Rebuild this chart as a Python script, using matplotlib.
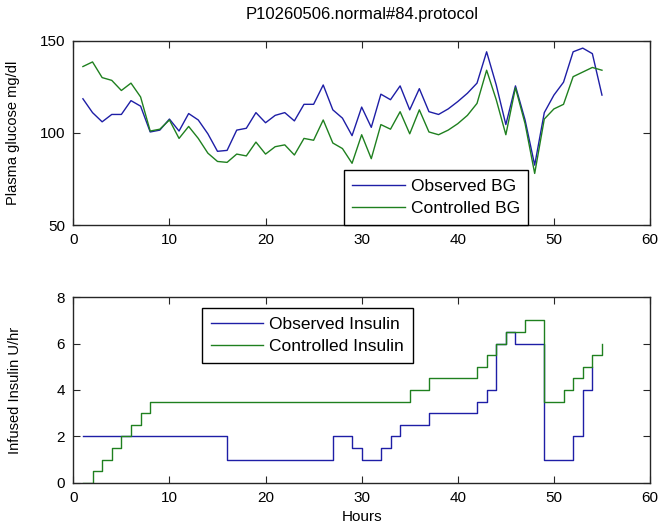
import matplotlib

matplotlib.use("Agg")
import matplotlib.pyplot as plt

# hours of the protocol (one sample per hour)
hours_bg = list(range(1, 56))
hours_obs_ins = list(range(1, 55))
hours_ctl_ins = list(range(1, 56))

observed_bg = [
    118.5, 111, 106, 110, 110, 117.5, 114.5, 100.5, 101.5, 107.5,
    101, 110.5, 107, 99.5, 90, 90.5, 101.5, 102.5, 111, 105.5,
    109.5, 111, 106.5, 115.5, 115.5, 126, 112.5, 108, 98.5, 114,
    103, 121, 118, 125.5, 112.5, 124, 111.5, 110, 113, 117,
    121.5, 127, 144, 126, 104.5, 125.5, 107, 82.5, 111, 120.5,
    127.5, 144, 146, 143, 120.5,
]
controlled_bg = [
    136, 138.5, 130, 128.5, 123, 127, 119.5, 101, 102, 107,
    97, 103.5, 97, 89, 84.5, 84, 88.5, 87.5, 95, 88.5,
    92.5, 93.5, 88, 97, 96, 107, 94.5, 91.5, 83.5, 99,
    86, 104.5, 102, 111.5, 99.5, 112.5, 100.5, 99, 101.5, 105,
    109.5, 116, 134, 118, 99, 124.5, 105, 78, 107.5, 113,
    115.5, 130.5, 133, 135.5, 134,
]

observed_insulin = [
    2, 2, 2, 2, 2, 2, 2, 2, 2, 2, 2, 2, 2, 2, 2,
    1, 1, 1, 1, 1, 1, 1, 1, 1, 1, 1,
    2, 2, 1.5, 1, 1, 1.5, 2, 2.5, 2.5, 2.5,
    3, 3, 3, 3, 3, 3.5, 4, 6, 6.5, 6, 6, 6,
    1, 1, 1, 2, 4, 5,
]
controlled_insulin = [
    0, 0.5, 1, 1.5, 2, 2.5, 3,
    3.5, 3.5, 3.5, 3.5, 3.5, 3.5, 3.5, 3.5, 3.5, 3.5, 3.5, 3.5, 3.5, 3.5,
    3.5, 3.5, 3.5, 3.5, 3.5, 3.5, 3.5, 3.5, 3.5, 3.5, 3.5, 3.5, 3.5,
    4, 4, 4.5, 4.5, 4.5, 4.5, 4.5, 5, 5.5, 6, 6.5, 6.5, 7, 7,
    3.5, 3.5, 4, 4.5, 5, 5.5, 6,
]

BLUE = "#1e1ea6"
GREEN = "#1f801f"
EDGE = "#262626"


def style_axes(ax):
    for sp in ax.spines.values():
        sp.set_color(EDGE)
        sp.set_linewidth(1.0)
    ax.tick_params(direction="in", top=True, right=True, length=5, width=0.8,
                   colors=EDGE, labelcolor="black", labelsize=11, pad=5.8)
    ax.set_xlim(0, 60)
    ax.set_xticks([0, 10, 20, 30, 40, 50, 60])


def legend(ax, anchor, loc):
    leg = ax.legend(loc=loc, bbox_to_anchor=anchor, borderaxespad=0,
                    fontsize=12.5, handlelength=3.0, handletextpad=0.35,
                    borderpad=0.5, labelspacing=0.4, fancybox=False,
                    framealpha=1, edgecolor="black")
    leg.get_frame().set_linewidth(1.0)
    return leg


plt.rcParams["font.family"] = ["Liberation Sans", "DejaVu Sans"]

fig = plt.figure(figsize=(6.61, 5.27), dpi=100)
ax1 = fig.add_axes([0.1109, 0.573, 0.8725, 0.3497])
ax2 = fig.add_axes([0.1109, 0.0841, 0.8725, 0.3518])

ax1.plot(hours_bg, observed_bg, color=BLUE, lw=1.0, label="Observed BG")
ax1.plot(hours_bg, controlled_bg, color=GREEN, lw=1.0, label="Controlled BG")
style_axes(ax1)
ax1.set_ylim(50, 150)
ax1.set_yticks([50, 100, 150])
ax1.set_ylabel("Plasma glucose mg/dl", fontsize=10.5)
ax1.yaxis.set_label_coords(-0.092, 0.5)
ax1.set_title("P10260506.normal#84.protocol", fontsize=12, pad=16)
legend(ax1, (0.469, 0.0), "lower left")

ax2.step(hours_obs_ins, observed_insulin, where="post", color=BLUE, lw=1.0,
         label="Observed Insulin")
ax2.step(hours_ctl_ins, controlled_insulin, where="post", color=GREEN, lw=1.0,
         label="Controlled Insulin")
style_axes(ax2)
ax2.set_ylim(0, 8)
ax2.set_yticks([0, 2, 4, 6, 8])
ax2.set_ylabel("Infused Insulin U/hr", fontsize=10.5)
ax2.yaxis.set_label_coords(-0.089, 0.5)
ax2.set_xlabel("Hours", fontsize=11)
ax2.xaxis.set_label_coords(0.5, -0.15)
legend(ax2, (0.2237, 0.9407), "upper left")

fig.savefig("out.png", dpi=100)
plt.close(fig)
